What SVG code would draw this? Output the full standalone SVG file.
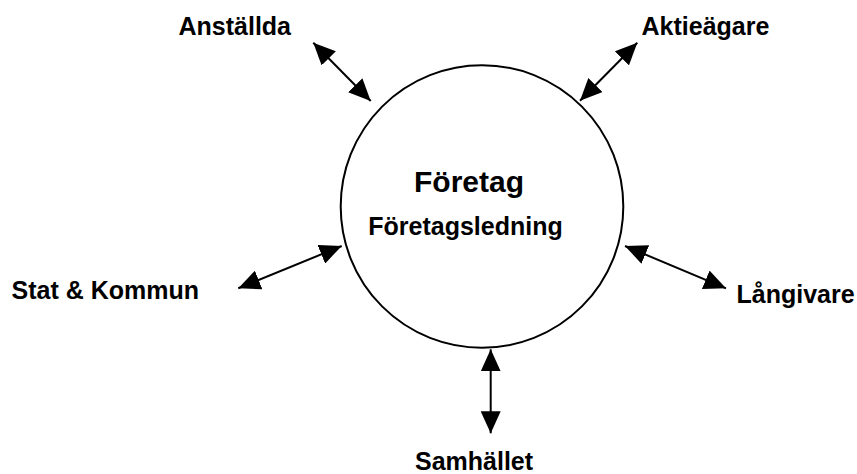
<svg xmlns="http://www.w3.org/2000/svg" width="857" height="474" viewBox="0 0 857 474">
<style>
text{font-family:"Liberation Sans",Arial,sans-serif;font-weight:bold;fill:#000;}
.lbl{font-size:25px;}
.conn line{stroke:#000;stroke-width:2;marker-start:url(#ah);marker-end:url(#ah);}
</style>
<defs>
<marker id="ah" viewBox="0 0 22 20" refX="22" refY="10" markerWidth="22" markerHeight="20" markerUnits="userSpaceOnUse" orient="auto-start-reverse">
<path d="M0,0 L22,10 L0,20 z" fill="#000"/>
</marker>
</defs>
<rect width="857" height="474" fill="#fff"/>
<g id="foretag">
<circle cx="482" cy="206.5" r="141.3" fill="#fff" stroke="#000" stroke-width="2"/>
<text x="469" y="191.5" font-size="30" text-anchor="middle">Företag</text>
<text x="465.5" y="235" font-size="25" text-anchor="middle">Företagsledning</text>
</g>
<g id="anstallda"><text class="lbl" x="178.5" y="35">Anställda</text></g>
<g id="aktieagare"><text class="lbl" x="641.5" y="35">Aktieägare</text></g>
<g id="stat"><text class="lbl" x="11.5" y="299">Stat &amp; Kommun</text></g>
<g id="langivare"><text class="lbl" x="736.5" y="303">Långivare</text></g>
<g id="samhallet"><text class="lbl" x="415" y="470">Samhället</text></g>
<g class="conn" id="connectors">
<line x1="313.3" y1="42.7" x2="370.7" y2="101"/>
<line x1="637.3" y1="42.7" x2="580" y2="100.7"/>
<line x1="238.3" y1="288.3" x2="341.7" y2="246"/>
<line x1="625" y1="246" x2="726" y2="288.3"/>
<line x1="490.7" y1="349.3" x2="490.7" y2="433.3"/>
</g>
</svg>
